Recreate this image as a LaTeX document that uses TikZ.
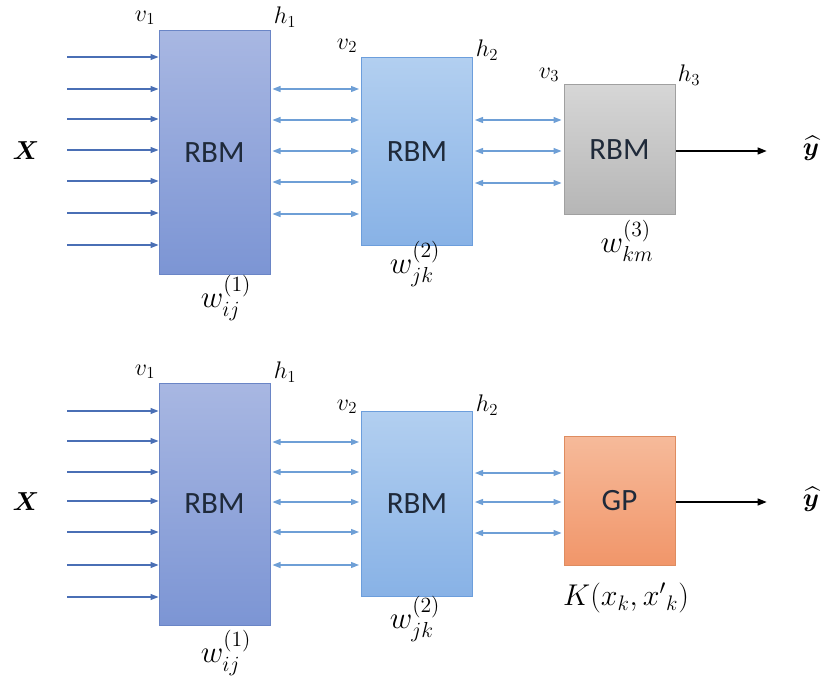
\RequirePackage{fix-cm}
\documentclass[tikz,border=0pt]{standalone}
\usepackage{fontspec}
\usepackage{amsmath,bm,graphicx}
\newfontfamily\boxfont{Carlito}
\usetikzlibrary{arrows.meta}
\newcommand{\mlab}[2]{\scalebox{#1}{$#2$}}
\definecolor{inarrow}{HTML}{4A6FB5}
\definecolor{biarrow}{HTML}{6E9FD6}
\definecolor{aBorder}{HTML}{6A85C6}
\definecolor{aTop}{HTML}{A8B7E2}
\definecolor{aBot}{HTML}{7C95D4}
\definecolor{bBorder}{HTML}{6C9EDC}
\definecolor{bTop}{HTML}{B2CFF0}
\definecolor{bBot}{HTML}{88B2E6}
\definecolor{cBorder}{HTML}{A0A0A0}
\definecolor{cTop}{HTML}{D6D6D6}
\definecolor{cBot}{HTML}{B6B6B6}
\definecolor{gBorder}{HTML}{DE8C60}
\definecolor{gTop}{HTML}{F6BA9A}
\definecolor{gBot}{HTML}{F1966A}
\definecolor{boxtext}{HTML}{1F2A3A}
\tikzset{
  boxbase/.style={line width=1pt, minimum width=111pt, inner sep=0pt, font=\boxfont\fontsize{31}{33}\selectfont, text=boxtext},
  boxA/.style={boxbase, draw=aBorder, top color=aTop, bottom color=aBot},
  boxB/.style={boxbase, draw=bBorder, top color=bTop, bottom color=bBot},
  boxC/.style={boxbase, draw=cBorder, top color=cTop, bottom color=cBot},
  boxG/.style={boxbase, draw=gBorder, top color=gTop, bottom color=gBot},
  inarr/.style={draw=inarrow, line width=1.3pt, -{Triangle[length=8pt,width=6pt]}},
  biarr/.style={draw=biarrow, line width=1.3pt, {Triangle[length=8pt,width=6pt]}-{Triangle[length=8pt,width=6pt]}, shorten <=2pt, shorten >=2pt},
  outarr/.style={draw=black, line width=1.3pt, -{Triangle[length=9pt,width=7pt]}},
  lab/.style={font=\fontsize{20}{22}\selectfont, inner sep=0pt},
}
\begin{document}
\begin{tikzpicture}[x=1pt,y=-1pt]
\useasboundingbox (0,0) rectangle (822,682);
% ---------------- top row ----------------
\node[boxA, minimum height=243pt] (t1) at (214.5,152.5) {RBM};
\node[boxB, minimum height=187pt] (t2) at (417,151.5) {RBM};
\node[boxC, minimum height=129pt] (t3) at (619.5,149.5) {RBM};
\node[lab] (tX) at (26,151) {\mlab{1.3}{\bm{X}}};
\node[lab] (ty) at (811,148) {\mlab{1.3}{\widehat{\bm{y}}}};
\foreach \yy [count=\i] in {57,89,119,150,181,213,245} {
  \coordinate (ti\i) at (67,\yy);
  \draw[inarr] (ti\i) -- (t1.west |- ti\i);
}
\foreach \yy in {89,120,151,182,214}
  \draw[biarr] (t1.east |- 0,\yy) -- (t2.west |- 0,\yy);
\foreach \yy in {120,151,183}
  \draw[biarr] (t2.east |- 0,\yy) -- (t3.west |- 0,\yy);
\draw[outarr] (t3.east |- 0,151) -- ([xshift=-36pt]ty.west |- 0,151);
\node[lab] (tv1) at (145,18) {\mlab{1.2}{v_1}};
\node[lab] (th1) at (285,17) {\mlab{1.2}{h_1}};
\node[lab] (tv2) at (347,46) {\mlab{1.2}{v_2}};
\node[lab] (th2) at (487,50) {\mlab{1.2}{h_2}};
\node[lab] (tv3) at (549,75) {\mlab{1.2}{v_3}};
\node[lab] (th3) at (689,75) {\mlab{1.2}{h_3}};
\node[lab] (tw1) at (226,298) {\mlab{1.55}{w_{ij}^{(1)}}};
\node[lab] (tw2) at (415,264) {\mlab{1.55}{w_{jk}^{(2)}}};
\node[lab] (tw3) at (627,241) {\mlab{1.55}{w_{km}^{(3)}}};
% ---------------- bottom row ----------------
\node[boxA, minimum height=242pt] (b1) at (214.5,504) {RBM};
\node[boxB, minimum height=185pt] (b2) at (417,503.5) {RBM};
\node[boxG, minimum height=129pt] (b3) at (619.5,500.5) {GP};
\node[lab] (bX) at (26,502) {\mlab{1.3}{\bm{X}}};
\node[lab] (by) at (811,499) {\mlab{1.3}{\widehat{\bm{y}}}};
\foreach \yy [count=\i] in {411,441,472,501,532,565,597} {
  \coordinate (bi\i) at (67,\yy);
  \draw[inarr] (bi\i) -- (b1.west |- bi\i);
}
\foreach \yy in {442,472,502,532,565}
  \draw[biarr] (b1.east |- 0,\yy) -- (b2.west |- 0,\yy);
\foreach \yy in {473,502,533}
  \draw[biarr] (b2.east |- 0,\yy) -- (b3.west |- 0,\yy);
\draw[outarr] (b3.east |- 0,502) -- ([xshift=-36pt]by.west |- 0,502);
\node[lab] (bv1) at (145,372) {\mlab{1.2}{v_1}};
\node[lab] (bh1) at (285,372) {\mlab{1.2}{h_1}};
\node[lab] (bv2) at (347,407) {\mlab{1.2}{v_2}};
\node[lab] (bh2) at (487,405) {\mlab{1.2}{h_2}};
\node[lab] (bw1) at (226,653) {\mlab{1.55}{w_{ij}^{(1)}}};
\node[lab] (bw2) at (415,619) {\mlab{1.55}{w_{jk}^{(2)}}};
\node[lab] (bK) at (626,598) {\mlab{1.5}{K(x_k,x'{}_k)}};
\end{tikzpicture}
\end{document}
